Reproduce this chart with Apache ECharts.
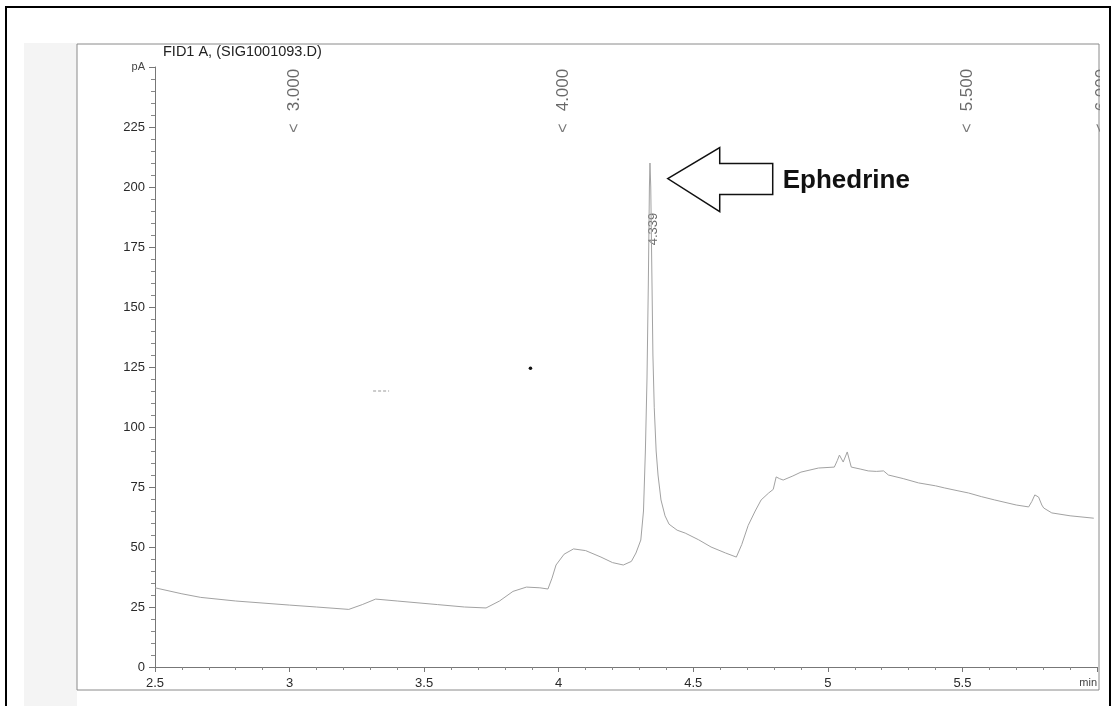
<!DOCTYPE html>
<html>
<head>
<meta charset="utf-8">
<script src="https://cdn.jsdelivr.net/npm/echarts@6/dist/echarts.min.js"></script>
<style>
html,body{margin:0;padding:0;background:#fff;}
#chart{width:1116px;height:706px;}
</style>
</head>
<body>
<div id="chart"></div>
<script>
// ---- data ----
var titleText = 'FID1 A, (SIG1001093.D)';
var yUnit = 'pA';
var xUnit = 'min';
var traceTime = [2.50,2.60,2.67,2.80,3.00,3.10,3.22,3.27,3.32,3.40,3.55,3.65,3.73,3.78,3.83,3.88,3.93,3.96,3.975,3.99,4.02,4.055,4.10,4.157,4.20,4.24,4.27,4.287,4.305,4.315,4.322,4.328,4.333,4.337,4.339,4.342,4.346,4.350,4.355,4.362,4.369,4.38,4.395,4.41,4.44,4.47,4.52,4.566,4.62,4.66,4.68,4.704,4.73,4.752,4.78,4.797,4.808,4.82,4.834,4.87,4.90,4.965,5.024,5.035,5.043,5.057,5.072,5.087,5.12,5.15,5.18,5.207,5.225,5.28,5.337,5.40,5.434,5.48,5.523,5.57,5.62,5.70,5.746,5.758,5.769,5.783,5.795,5.802,5.832,5.90,5.988];
var traceSignal = [33.0,30.5,29.0,27.5,25.8,25.0,24.0,26.0,28.3,27.5,26.0,25.0,24.6,27.5,31.5,33.3,33.0,32.5,37,42.5,47,49.2,48.5,45.8,43.5,42.5,44,47.5,52.9,65,90,120,160,200,210,200,165,130,108,90,80,69.6,63,59.5,57,55.8,53,50,47.5,45.8,51,59,65,69.6,72.5,74,79.2,78.5,77.9,79.6,81.2,82.9,83.3,86,88.3,85.4,89.6,83.3,82.5,81.7,81.5,81.7,80,78.5,76.7,75.5,74.6,73.5,72.5,71,69.6,67.5,66.7,69,71.7,70.8,67.5,66.25,64.2,63,62];
var markerTimes = [3.0, 4.0, 5.5, 6.0];
var markerLabels = ['3.000', '4.000', '5.500', '6.000'];
var peakTime = 4.339;
var peakLabel = '4.339';
var compoundName = 'Ephedrine';

var FONT = 'Liberation Sans, Arial, sans-serif';
var chart = echarts.init(document.getElementById('chart'));

var trace = traceTime.map(function (t, i) { return [t, traceSignal[i]]; });

chart.setOption({
  animation: false,
  backgroundColor: '#fff',
  grid: { left: 155, right: 19, top: 67, bottom: 39 },
  xAxis: {
    type: 'value', min: 2.5, max: 6.0, interval: 0.5,
    axisLine: { show: true, onZero: false, lineStyle: { color: '#777', width: 1 } },
    axisTick: { show: true, length: 5, lineStyle: { color: '#777' } },
    minorTick: { show: true, splitNumber: 5, length: 3, lineStyle: { color: '#888' } },
    splitLine: { show: false },
    axisLabel: {
      color: '#2a2a2a', fontFamily: FONT, fontSize: 13, margin: 10,
      alignMaxLabel: 'right',
      formatter: function (v) { return Math.abs(v - 6) < 1e-9 ? '{u|' + xUnit + '}' : String(v); },
      rich: { u: { fontSize: 11, color: '#444', fontFamily: FONT } }
    }
  },
  yAxis: {
    type: 'value', min: 0, max: 250, interval: 25,
    axisLine: { show: true, lineStyle: { color: '#777', width: 1 } },
    axisTick: { show: true, length: 6, lineStyle: { color: '#777' } },
    minorTick: { show: true, splitNumber: 5, length: 4, lineStyle: { color: '#888' } },
    splitLine: { show: false },
    axisLabel: {
      color: '#2a2a2a', fontFamily: FONT, fontSize: 13, margin: 10,
      formatter: function (v) { return v === 250 ? '{u|' + yUnit + '}' : String(v); },
      rich: { u: { fontSize: 11, color: '#444', fontFamily: FONT } }
    }
  },
  series: [
    {
      type: 'line', data: trace, showSymbol: false, symbol: 'none',
      lineStyle: { color: '#a2a2a2', width: 1 }, z: 3
    },
    {
      type: 'scatter', symbolSize: 0, silent: true,
      data: markerTimes.map(function (t, i) { return { value: [t, 240.4], name: markerLabels[i] }; }),
      label: { show: true, position: 'inside', rotate: 90, fontFamily: FONT, fontSize: 17, color: '#444',
        formatter: function (p) { return p.name; }, offset: [0, 5] }
    },
    {
      type: 'scatter', symbolSize: 0, silent: true,
      data: markerTimes.map(function (t) { return [t, 224.6]; }),
      label: { show: true, position: 'inside', rotate: 90, fontFamily: FONT, fontSize: 16, color: '#555',
        formatter: '<', offset: [0, 5] }
    },
    {
      type: 'scatter', symbolSize: 0, silent: true,
      data: [{ value: [peakTime, 182.5], name: peakLabel }],
      label: { show: true, position: 'inside', rotate: 90, fontFamily: FONT, fontSize: 13, color: '#444',
        formatter: function (p) { return p.name; }, offset: [0, 3] }
    }
  ]
});

// annotation graphics anchored to data coordinates
var tip = chart.convertToPixel({ gridIndex: 0 }, [4.405, 203.5]);
var dot = chart.convertToPixel({ gridIndex: 0 }, [3.895, 124.5]);
var dash = chart.convertToPixel({ gridIndex: 0 }, [3.34, 115]);
var tx = tip[0], ty = tip[1];
chart.setOption({
  graphic: [
    { type: 'rect', z: -10, silent: true, shape: { x: 24, y: 43, width: 53, height: 663 }, style: { fill: '#f4f4f4' } },
    { type: 'rect', z: 60, silent: true, shape: { x: 1100, y: 45, width: 9, height: 120 }, style: { fill: '#fff' } },
    { type: 'rect', z: 65, silent: true, shape: { x: 77, y: 44, width: 1022, height: 646 }, style: { fill: null, stroke: '#8a8a8a', lineWidth: 1 } },
    { type: 'rect', z: 70, silent: true, shape: { x: 6, y: 7, width: 1104, height: 710 }, style: { fill: null, stroke: '#000', lineWidth: 2 } },
    { type: 'text', z: 50, silent: true, x: 163, y: 52, style: { text: titleText, fontFamily: FONT, fontSize: 14.5, fill: '#222', verticalAlign: 'middle' } },
    { type: 'polygon', z: 50, silent: true,
      shape: { points: [[tx, ty], [tx + 52, ty - 31], [tx + 52, ty - 15], [tx + 105, ty - 15], [tx + 105, ty + 16], [tx + 52, ty + 16], [tx + 52, ty + 33]] },
      style: { fill: '#fff', stroke: '#111', lineWidth: 1.5 } },
    { type: 'text', z: 50, silent: true, x: tx + 115, y: ty + 2, style: { text: compoundName, fontFamily: FONT, fontSize: 26, fontWeight: 'bold', fill: '#111', verticalAlign: 'middle' } },
    { type: 'circle', z: 50, silent: true, shape: { cx: dot[0], cy: dot[1], r: 1.8 }, style: { fill: '#111' } },
    { type: 'line', z: 50, silent: true, shape: { x1: dash[0] - 8, y1: dash[1], x2: dash[0] + 8, y2: dash[1] }, style: { stroke: '#999', lineWidth: 1, lineDash: [3, 2] } }
  ]
});
</script>
</body>
</html>
